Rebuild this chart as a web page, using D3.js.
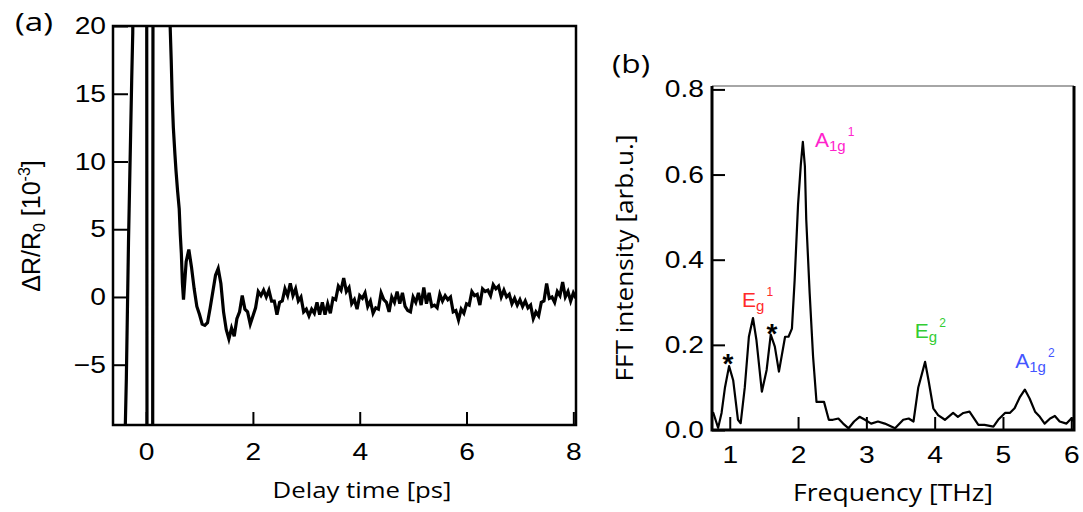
<!DOCTYPE html>
<html>
<head>
<meta charset="utf-8">
<script src="https://cdn.jsdelivr.net/npm/d3@7"></script>
<style>
  body { margin: 0; background: #fff; }
  .tick text { font-family: "Liberation Sans", Arial, sans-serif; font-size: 23.5px; fill: #000; }
  .tick line { stroke: #000; stroke-width: 2; }
  .title { font-family: "Open Sans", sans-serif; fill: #000; }
</style>
</head>
<body>
<div id="chart"></div>
<script>
// (a) transient reflectivity, delay time in ps, dR/R0 in 1e-3
let delayTime = [
    -0.62, -0.40, -0.39, -0.37, -0.35, -0.33, -0.31, -0.29, -0.27, -0.25,
    -0.23, -0.05, 0.01, 0.02, 0.12, 0.13, 0.44, 0.45, 0.47, 0.49,
    0.51, 0.54, 0.56, 0.59, 0.62, 0.64, 0.66, 0.68,
    0.70, 0.75, 0.80, 0.85, 0.90, 0.95, 1.00, 1.05, 1.10, 1.15,
    1.20, 1.25, 1.30, 1.35, 1.40, 1.45, 1.50, 1.55, 1.60, 1.65,
    1.70, 1.75, 1.80, 1.85, 1.90, 1.95, 2.00, 2.05, 2.10, 2.15,
    2.20, 2.25, 2.30, 2.35, 2.40, 2.45, 2.50, 2.55, 2.60, 2.65,
    2.70, 2.75, 2.80, 2.85, 2.90, 2.95, 3.00, 3.05, 3.10, 3.15,
    3.20, 3.25, 3.30, 3.35, 3.40, 3.45, 3.50, 3.55, 3.60, 3.65,
    3.70, 3.75, 3.80, 3.85, 3.90, 3.95, 4.00, 4.05, 4.10, 4.15,
    4.20, 4.25, 4.30, 4.35, 4.40, 4.45, 4.50, 4.55, 4.60, 4.65,
    4.70, 4.75, 4.80, 4.85, 4.90, 4.95, 5.00, 5.05, 5.10, 5.15,
    5.20, 5.25, 5.30, 5.35, 5.40, 5.45, 5.50, 5.55, 5.60, 5.65,
    5.70, 5.75, 5.80, 5.85, 5.90, 5.95, 6.00, 6.05, 6.10, 6.15,
    6.20, 6.25, 6.30, 6.35, 6.40, 6.45, 6.50, 6.55, 6.60, 6.65,
    6.70, 6.75, 6.80, 6.85, 6.90, 6.95, 7.00, 7.05, 7.10, 7.15,
    7.20, 7.25, 7.30, 7.35, 7.40, 7.45, 7.50, 7.55, 7.60, 7.65,
    7.70, 7.75, 7.80, 7.85, 7.90, 7.95, 8.00, 8.05
];
let reflectivity = [
    -30, -30, -9.6, -6, -1, 4, 8, 12, 16, 19.5,
    30, 30, 30, -30, -30, 30, 30, 20, 17.5, 14.5,
    12.5, 10.5, 9.3, 7.8, 6.5, 4.6, 3.2, 1.0,
    -0.2, 2.6, 3.5, 2.2, 0.6, -0.7, -1.3, -2.0, -2.1, -1.9,
    -0.8, 0.4, 1.6, 2.1, 1.0, -1.1, -2.4, -3.1, -2.3, -2.9,
    -1.6, -1.1, 0.1, -0.9, -1.1, -2.0, -1.4, -0.8, 0.4, 0.1,
    0.5, 0.0, 0.5, -0.3, -0.3, -1.3, -0.4, -0.3, 0.6, 0.1,
    1.0, 0.1, 0.6, -0.3, 0.0, -1.1, -0.9, -1.4, -0.9, -1.2,
    -0.4, -1.3, -0.4, -1.3, -0.5, -1.2, -0.1, -0.2, 0.8, 0.5,
    1.4, 0.4, 0.7, -0.5, -0.2, -0.9, 0.1, -0.1, 0.3, -0.7,
    -0.3, -1.2, -0.8, -0.9, 0.3, -0.2, -0.4, -1.1, 0.0, -0.4,
    0.4, -0.5, 0.3, -0.7, -1.0, -1.1, 0.0, -0.4, 0.3, -0.6,
    0.7, -0.5, 0.3, -0.7, -0.6, -0.8, 0.2, -0.3, 0.1, -0.2,
    0.0, -1.1, -1.0, -1.7, -0.9, -1.2, -0.5, -0.6, 0.4, 0.1,
    0.2, -0.6, 0.6, 0.4, 0.5, 0.1, 0.9, 0.6, 0.8, 0.0,
    0.5, 0.0, 0.2, -0.5, -0.1, -0.6, -0.2, -0.7, -0.3, -0.8,
    -0.6, -1.6, -1.1, -1.4, -0.4, -0.3, 1.0, -0.1, 0.0, -0.4,
    0.4, 0.1, 1.1, 0.0, 0.4, -0.3, 0.3, -0.1
];

// (b) FFT spectrum
let freqTHz = [
    0.74, 0.76, 0.80, 0.83, 0.88, 0.93, 0.99, 1.05, 1.12, 1.16,
    1.22, 1.28, 1.34, 1.39, 1.47, 1.54, 1.60, 1.66, 1.72, 1.81,
    1.86, 1.91, 1.95, 2.00, 2.04, 2.07, 2.10, 2.12, 2.17, 2.22,
    2.27, 2.32, 2.38, 2.45, 2.51, 2.59, 2.66, 2.74, 2.82, 2.90,
    2.98, 3.07, 3.17, 3.27, 3.42, 3.54, 3.62, 3.69, 3.76, 3.86,
    3.91, 3.98, 4.05, 4.15, 4.27, 4.34, 4.42, 4.51, 4.64, 4.73,
    4.86, 4.93, 5.03, 5.10, 5.17, 5.25, 5.32, 5.39, 5.47, 5.54,
    5.61, 5.69, 5.76, 5.83, 5.93, 6.00, 6.04
];
let fftIntensity = [
    0.035, 0.040, 0.020, 0.005, 0.040, 0.100, 0.150, 0.117, 0.024, 0.016,
    0.100, 0.219, 0.263, 0.212, 0.090, 0.141, 0.224, 0.196, 0.137, 0.219,
    0.219, 0.238, 0.352, 0.530, 0.622, 0.677, 0.619, 0.494, 0.321, 0.172,
    0.066, 0.066, 0.066, 0.024, 0.024, 0.027, 0.015, 0.004, 0.020, 0.031,
    0.024, 0.015, 0.020, 0.015, 0.004, 0.024, 0.027, 0.020, 0.100, 0.160,
    0.117, 0.051, 0.035, 0.024, 0.040, 0.031, 0.040, 0.043, 0.012, 0.012,
    0.008, 0.024, 0.040, 0.040, 0.051, 0.078, 0.095, 0.074, 0.043, 0.031,
    0.015, 0.027, 0.033, 0.020, 0.015, 0.027, 0.020
];

let delayTicks = [0, 2, 4, 6, 8];
let reflTicks = [-5, 0, 5, 10, 15, 20];
let freqTicks = [1, 2, 3, 4, 5, 6];
let fftTicks = [0.0, 0.2, 0.4, 0.6, 0.8];

// phonon mode labels, anchored in data coordinates of panel (b)
let modeNames = ["A", "E", "E", "A"];
let modeSubs = ["1g", "g", "g", "1g"];
let modeSups = ["1", "1", "2", "2"];
let modeFreq = [2.248, 1.18, 3.71, 5.18];
let modeLevel = [0.665, 0.289, 0.216, 0.146];
let modeColors = ["#ff22cc", "#ff2a2a", "#33cc33", "#4455ff"];
let starFreq = [0.974, 1.618];
let starLevel = [0.134, 0.204];

let svg = d3.select("#chart")
    .append("svg")
    .attr("width", 1083)
    .attr("height", 512)
    .style("background", "#fff");

function stretchLabels(g, sx) {
    g.selectAll(".tick text").each(function () {
        let t = d3.select(this);
        let x = +t.attr("x") || 0;
        t.attr("x", 0).attr("transform", "translate(" + x + ",0) scale(" + sx + ",1)");
    });
}

// ---------- panel (a) ----------
let xA = d3.scaleLinear().domain([-0.62, 8.05]).range([113, 576]);
let yA = d3.scaleLinear().domain([-9.45, 20]).range([425, 26]);

svg.append("clipPath").attr("id", "clip-a")
    .append("rect")
    .attr("x", 113).attr("y", 26)
    .attr("width", 463).attr("height", 399);

svg.append("path")
    .datum(delayTime.map((t, i) => [t, reflectivity[i]]))
    .attr("clip-path", "url(#clip-a)")
    .attr("fill", "none")
    .attr("stroke", "#000")
    .attr("stroke-width", 3.2)
    .attr("stroke-linejoin", "miter")
    .attr("d", d3.line().x(d => xA(d[0])).y(d => yA(d[1])));

let axA = svg.append("g")
    .attr("transform", "translate(0,425)")
    .call(d3.axisBottom(xA).tickValues(delayTicks).tickSizeInner(-13).tickSizeOuter(0).tickPadding(18));
axA.select(".domain").remove();
stretchLabels(axA, 1.2);

let ayA = svg.append("g")
    .attr("transform", "translate(113,0)")
    .call(d3.axisLeft(yA).tickValues(reflTicks).tickSizeInner(-15).tickSizeOuter(0).tickPadding(7));
ayA.select(".domain").remove();
stretchLabels(ayA, 1.2);

svg.append("rect")
    .attr("x", 113).attr("y", 26)
    .attr("width", 463).attr("height", 399)
    .attr("fill", "none")
    .attr("stroke", "#000")
    .attr("stroke-width", 2.5);

svg.append("text")
    .attr("class", "title")
    .attr("x", 362).attr("y", 498)
    .attr("text-anchor", "middle")
    .attr("font-size", 21)
    .attr("textLength", 179)
    .attr("lengthAdjust", "spacingAndGlyphs")
    .text("Delay time [ps]");

let yLabA = svg.append("text")
    .attr("transform", "translate(40,226) rotate(-90)")
    .attr("text-anchor", "middle")
    .style("font-family", "'Liberation Sans', Arial, sans-serif")
    .attr("font-size", 25);
yLabA.append("tspan").text("\u0394R/R");
yLabA.append("tspan").attr("font-size", 16).attr("dy", 5).text("0");
yLabA.append("tspan").attr("dy", -5).text(" [10");
yLabA.append("tspan").attr("font-size", 16).attr("dy", -10).text("-3");
yLabA.append("tspan").attr("dy", 10).text("]");

svg.append("text")
    .attr("class", "title")
    .attr("x", 15).attr("y", 31)
    .attr("font-size", 25)
    .attr("textLength", 38)
    .attr("lengthAdjust", "spacingAndGlyphs")
    .text("(a)");

// ---------- panel (b) ----------
let xB = d3.scaleLinear().domain([0.74, 6.04]).range([712, 1074]);
let yB = d3.scaleLinear().domain([0, 0.808]).range([430, 86]);

svg.append("clipPath").attr("id", "clip-b")
    .append("rect")
    .attr("x", 712).attr("y", 86)
    .attr("width", 362).attr("height", 344);

svg.append("path")
    .datum(freqTHz.map((f, i) => [f, fftIntensity[i]]))
    .attr("clip-path", "url(#clip-b)")
    .attr("fill", "none")
    .attr("stroke", "#000")
    .attr("stroke-width", 2.2)
    .attr("stroke-linejoin", "round")
    .attr("d", d3.line().x(d => xB(d[0])).y(d => yB(d[1])));

let axB = svg.append("g")
    .attr("transform", "translate(0,430)")
    .call(d3.axisBottom(xB).tickValues(freqTicks).tickFormat(d3.format("d"))
        .tickSizeInner(-13).tickSizeOuter(0).tickPadding(16));
axB.select(".domain").remove();
stretchLabels(axB, 1.2);

let ayB = svg.append("g")
    .attr("transform", "translate(712,0)")
    .call(d3.axisLeft(yB).tickValues(fftTicks).tickFormat(d3.format(".1f"))
        .tickSizeInner(-13).tickSizeOuter(0).tickPadding(8));
ayB.select(".domain").remove();
stretchLabels(ayB, 1.2);

// frame: thin grey top, heavy black elsewhere
svg.append("line")
    .attr("x1", 712).attr("x2", 1074).attr("y1", 86).attr("y2", 86)
    .attr("stroke", "#888").attr("stroke-width", 1.3);
svg.append("path")
    .attr("d", "M712,86V430H1074V86")
    .attr("fill", "none")
    .attr("stroke", "#000")
    .attr("stroke-width", 3);

svg.append("text")
    .attr("class", "title")
    .attr("x", 893).attr("y", 501)
    .attr("text-anchor", "middle")
    .attr("font-size", 23)
    .attr("textLength", 200)
    .attr("lengthAdjust", "spacingAndGlyphs")
    .text("Frequency [THz]");

svg.append("text")
    .attr("class", "title")
    .attr("transform", "translate(633,258) rotate(-90)")
    .attr("text-anchor", "middle")
    .attr("font-size", 23)
    .attr("textLength", 247)
    .attr("lengthAdjust", "spacingAndGlyphs")
    .text("FFT intensity [arb.u.]");

svg.append("text")
    .attr("class", "title")
    .attr("x", 612).attr("y", 73)
    .attr("font-size", 25)
    .attr("textLength", 38)
    .attr("lengthAdjust", "spacingAndGlyphs")
    .text("(b)");

modeNames.forEach(function (name, i) {
    let t = svg.append("text")
        .attr("x", xB(modeFreq[i]))
        .attr("y", yB(modeLevel[i]))
        .attr("fill", modeColors[i])
        .style("font-family", "'Liberation Sans', Arial, sans-serif")
        .attr("font-size", 21);
    t.append("tspan").text(name);
    t.append("tspan").attr("font-size", 15).attr("dy", 4).text(modeSubs[i]);
    t.append("tspan").attr("font-size", 12).attr("dx", 2).attr("dy", -15).text(modeSups[i]);
});

starFreq.forEach(function (f, i) {
    svg.append("text")
        .attr("x", xB(f))
        .attr("y", yB(starLevel[i]))
        .attr("text-anchor", "middle")
        .style("font-family", "'Liberation Sans', Arial, sans-serif")
        .attr("font-size", 28)
        .attr("font-weight", "bold")
        .text("*");
});
</script>
</body>
</html>
